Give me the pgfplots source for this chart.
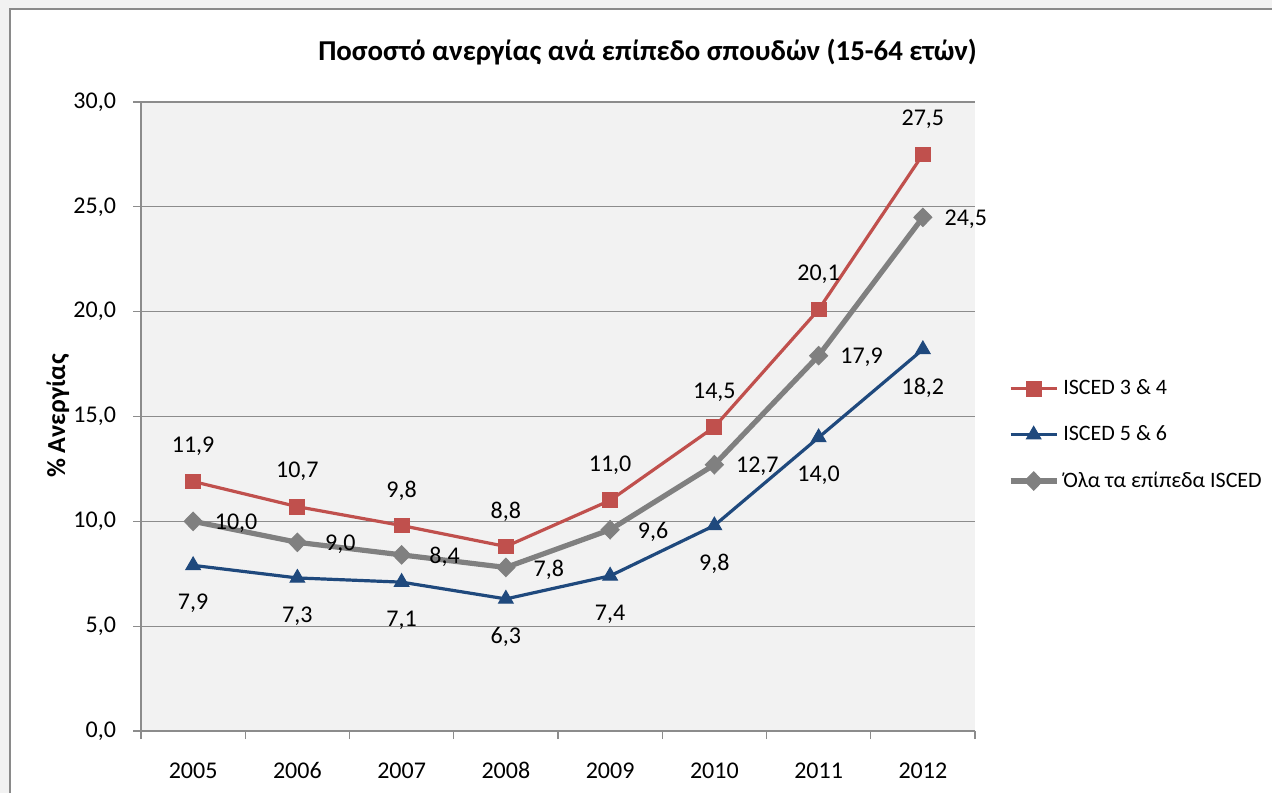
\documentclass[border=0pt]{standalone}
\usepackage{fontspec}
\setmainfont{Carlito}
\usepackage{pgfplots}
\pgfplotsset{compat=1.18}
\definecolor{cRed}{HTML}{C0504D}
\definecolor{cBlue}{HTML}{1F497D}
\definecolor{cGray}{HTML}{808080}
\definecolor{cBg}{HTML}{F2F2F2}
\definecolor{cGrid}{HTML}{8C8C8C}
\definecolor{cFrame}{HTML}{8A8A8A}
\newcommand{\lblfont}{\fontsize{12}{14.4}\selectfont}
\begin{document}
\begin{tikzpicture}
\useasboundingbox (0pt,0pt) rectangle (636pt,396.5pt);
\fill[white] (0pt,0pt) rectangle (636pt,396.5pt);
\fill[black!5] (0pt,0pt) rectangle (5pt,396.5pt);
\fill[black!5] (0pt,392pt) rectangle (636pt,396.5pt);
\draw[cFrame, line width=1.2pt] (5pt,0pt) -- (5pt,392pt) -- (636pt,392pt);
\begin{axis}[
  at={(70.5pt,31pt)}, anchor=south west,
  scale only axis, width=417pt, height=314.5pt,
  xmin=-0.5, xmax=7.5, ymin=0, ymax=30,
  clip=false,
  axis background/.style={fill=cBg},
  axis x line*=bottom, axis y line*=left,
  axis line style={cGrid, line width=0.8pt, -},
  tick align=outside,
  major tick length=4pt,
  tick style={cGrid, line width=0.6pt},
  ymajorgrids,
  grid style={cGrid, line width=0.6pt},
  ytick={0,5,10,15,20,25,30},
  xtick={-0.5,0.5,1.5,2.5,3.5,4.5,5.5,6.5,7.5},
  xticklabels={},
  extra x ticks={0,1,2,3,4,5,6,7},
  extra x tick labels={2005,2006,2007,2008,2009,2010,2011,2012},
  extra x tick style={major tick length=0pt, grid=none},
  /pgf/number format/fixed,
  /pgf/number format/fixed zerofill,
  /pgf/number format/precision=1,
  /pgf/number format/use comma,
  /pgf/number format/assume math mode=true,
  yticklabel style={font=\lblfont, text=black, xshift=-5pt},
  xticklabel style={font=\lblfont, text=black, text height=9pt, text depth=1pt, yshift=-11pt},
  legend style={at={(1.032,0.4706)}, anchor=west, draw=none, fill=none,
    font=\fontsize{11}{13.2}\selectfont, row sep=10pt, cells={anchor=west}},
  legend image code/.code={\draw[mark repeat=2,mark phase=2,#1] plot coordinates {(0pt,0pt)(11.5pt,0pt)(23pt,0pt)};},
]
\addplot[cRed, line width=1.6pt, mark=square*, mark size=3.7pt,
  mark options={solid, fill=cRed, line width=0.5pt},
  nodes near coords,
  nodes near coords style={anchor=center, yshift=17.5pt, font=\lblfont, text=black}]
  coordinates {(0,11.9) (1,10.7) (2,9.8) (3,8.8) (4,11.0) (5,14.5) (6,20.1) (7,27.5)};
\addlegendentry{ISCED 3 \& 4}
\addplot[cBlue, line width=1.6pt, mark=triangle*, mark size=4.2pt,
  mark options={solid, fill=cBlue, line width=0.5pt},
  nodes near coords,
  nodes near coords style={anchor=center, yshift=-19pt, font=\lblfont, text=black}]
  coordinates {(0,7.9) (1,7.3) (2,7.1) (3,6.3) (4,7.4) (5,9.8) (6,14.0) (7,18.2)};
\addlegendentry{ISCED 5 \& 6}
\addplot[cGray, line width=2.6pt, mark=diamond*, mark size=4.6pt,
  mark options={solid, fill=cGray, line width=0.5pt, xscale=1.3},
  nodes near coords,
  nodes near coords style={anchor=center, xshift=21.5pt, yshift=-1pt, font=\lblfont, text=black}]
  coordinates {(0,10.0) (1,9.0) (2,8.4) (3,7.8) (4,9.6) (5,12.7) (6,17.9) (7,24.5)};
\addlegendentry{Όλα τα επίπεδα ISCED}
\end{axis}
\node[font=\bfseries\fontsize{14.4}{17}\selectfont] at (323.75pt,370.5pt) {Ποσοστό ανεργίας ανά επίπεδο σπουδών (15-64 ετών)};
\node[font=\bfseries\fontsize{13}{15.6}\selectfont, rotate=90] at (29pt,188.5pt) {\% Ανεργίας};
\end{tikzpicture}
\end{document}
